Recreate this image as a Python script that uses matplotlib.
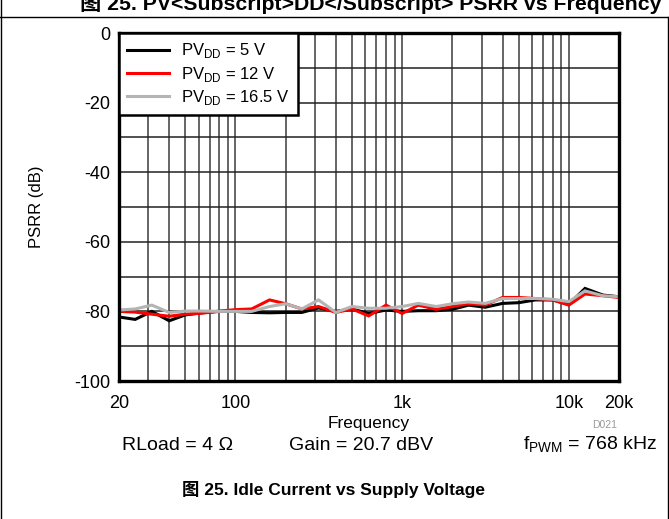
import numpy as np
import matplotlib
matplotlib.use("Agg")
from matplotlib import pyplot as plt
from matplotlib.lines import Line2D

plt.rcParams['font.family'] = ['Liberation Sans', 'Noto Sans CJK SC', 'DejaVu Sans']
plt.rcParams['mathtext.fontset'] = 'custom'
plt.rcParams['mathtext.rm'] = 'Liberation Sans'
plt.rcParams['axes.unicode_minus'] = False

# 1/3-octave frequencies (Hz)
freq = [20, 25, 31.5, 40, 50, 63, 80, 100, 125, 160, 200, 250, 315, 400, 500, 630,
        800, 1000, 1250, 1600, 2000, 2500, 3150, 4000, 5000, 6300, 8000, 10000,
        12500, 16000, 20000]

# PSRR (dB)
psrr_5v = [-81.6, -82.3, -80.0, -82.7, -81.0, -80.4, -80.0, -80.0, -80.3, -80.4,
           -80.3, -80.3, -79.0, -80.0, -79.3, -80.6, -79.6, -80.0, -79.8, -79.8,
           -79.4, -78.2, -78.8, -77.7, -77.5, -76.7, -76.7, -78.0, -73.4, -75.3, -75.8]
psrr_12v = [-80.0, -80.2, -80.8, -81.4, -80.8, -80.5, -79.9, -79.5, -79.3, -76.7,
            -77.8, -79.3, -78.6, -80.3, -79.3, -81.3, -78.2, -80.6, -78.2, -79.4,
            -78.6, -77.8, -78.2, -76.0, -76.0, -76.3, -76.7, -78.2, -75.0, -75.5, -76.0]
psrr_16v5 = [-79.6, -79.3, -78.2, -80.3, -79.9, -79.9, -80.0, -80.0, -80.0, -78.6,
             -77.8, -79.3, -76.7, -80.3, -78.6, -79.1, -79.1, -78.6, -77.7, -78.6,
             -77.8, -77.3, -77.7, -76.3, -76.3, -76.3, -76.5, -77.2, -74.1, -75.5, -75.8]

series_labels = [r'PV$_{\mathregular{DD}}$ = 5 V',
                 r'PV$_{\mathregular{DD}}$ = 12 V',
                 r'PV$_{\mathregular{DD}}$ = 16.5 V']
series_colors = ['black', '#ff0000', '#b4b4b4']

xtick_vals = [20, 100, 1000, 10000, 20000]
xtick_labels = ['20', '100', '1k', '10k', '20k']
ytick_vals = [0, -20, -40, -60, -80, -100]

W, H = 669, 519
fig = plt.figure(figsize=(W / 100, H / 100), dpi=100)
ax = fig.add_axes([119 / W, 1 - 381 / H, 500 / W, 348 / H])

for y, lab, col in zip([psrr_5v, psrr_12v, psrr_16v5], series_labels, series_colors):
    ax.plot(freq, y, color=col, lw=2.2, label=lab, solid_joinstyle='miter')

ax.set_xscale('log')
ax.set_xlim(20, 20000)
ax.set_ylim(-100, 0)

# grid: every 10 dB, and 20,30..90,100,200..
minor_x = [m * 10 ** d for d in range(1, 5) for m in range(1, 10) if 20 <= m * 10 ** d < 20000]
for xv in minor_x:
    ax.axvline(xv, color='#3c3c3c', lw=1.1, zorder=0.5)
for yv in range(-90, 0, 10):
    ax.axhline(yv, color='#222222', lw=1.1, zorder=0.5)

ax.set_xticks(xtick_vals)
ax.set_xticklabels(xtick_labels)
ax.xaxis.set_minor_locator(matplotlib.ticker.NullLocator())
ax.set_yticks(ytick_vals)
ax.set_yticklabels([str(v) for v in ytick_vals])
ax.tick_params(length=0, labelsize=13)
ax.tick_params(axis='x', pad=10)
ax.tick_params(axis='y', pad=6)
for s in ax.spines.values():
    s.set_linewidth(2.4)
    s.set_color('black')

ax.set_xlabel('Frequency', fontsize=12.5, labelpad=3)
ax.set_ylabel('PSRR (dB)', fontsize=12, labelpad=22)

leg = ax.legend(loc='upper left', bbox_to_anchor=(0, 1), borderaxespad=0, fontsize=12,
                fancybox=False, framealpha=1, edgecolor='black', handlelength=2.5,
                handletextpad=0.7, labelspacing=0.25, borderpad=0.5)
leg.get_frame().set_linewidth(1.8)
for h in leg.get_lines():
    h.set_linewidth(2.2)

fig.text(605 / W, 1 - 425 / H, 'D021', fontsize=7.5, color='#9a9a9a', ha='center', va='center')
fig.text(178 / W, 1 - 445 / H, 'RLoad = 4 \u03a9', fontsize=14, ha='center', va='center')
fig.text(361 / W, 1 - 445 / H, 'Gain = 20.7 dBV', fontsize=14, ha='center', va='center')
fig.text(590 / W, 1 - 445 / H, r'f$_{\mathregular{PWM}}$ = 768 kHz', fontsize=14,
         ha='center', va='center')

# clipped header and caption
fig.text(80 / W, 1 - 10 / H, '图 25. PV<Subscript>DD</Subscript> PSRR vs Frequency',
         fontsize=15.3, fontweight='bold', ha='left', va='baseline')
fig.text(334 / W, 1 - 490 / H, '图 25. Idle Current vs Supply Voltage',
         fontsize=12.5, fontweight='bold', ha='center', va='center')

# frame lines around the figure block
fig.add_artist(Line2D([0, 1], [1 - 17 / H, 1 - 17 / H], color='black', lw=1.0))
fig.add_artist(Line2D([1 / W, 1 / W], [0, 1], color='black', lw=1.0))
fig.add_artist(Line2D([1 - 1.5 / W, 1 - 1.5 / W], [0, 1 - 17 / H], color='black', lw=1.0))

fig.savefig('out.png', dpi=100)
